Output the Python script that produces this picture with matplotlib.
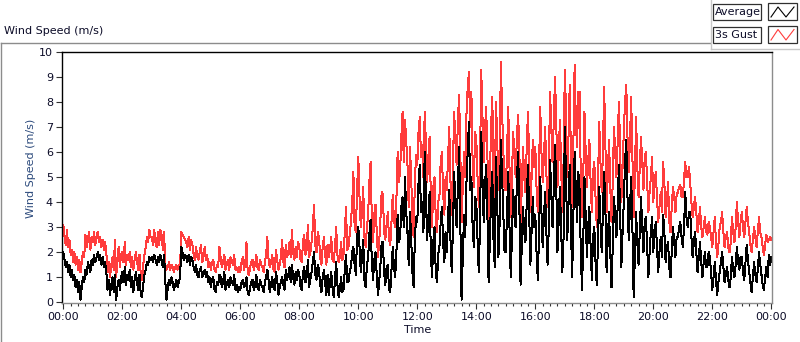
import numpy as np
import matplotlib
matplotlib.use("Agg")
import matplotlib.pyplot as plt
from matplotlib.lines import Line2D
from matplotlib.patches import Rectangle
from matplotlib.ticker import MultipleLocator, FuncFormatter

# ---------------- data (2.5-minute samples, m/s), one row per hour ----------------
avg_speed = [
    2.0,1.7,1.4,1.6,1.2,1.5,1.0,1.3,0.9,1.1,0.6,0.9,0.4,0.8,0.1,0.6,1.0,0.8,1.3,1.1,1.6,1.4,1.2,1.7,
    1.5,1.9,1.6,1.8,2.0,1.7,1.9,1.5,1.8,1.4,1.6,1.2,0.5,0.9,0.3,0.7,1.0,0.4,1.1,0.1,0.6,0.9,0.5,1.0,
    1.2,0.8,1.4,0.7,1.1,0.9,1.3,0.6,1.0,0.4,0.9,1.2,0.8,0.5,1.1,0.3,0.2,0.7,1.1,1.3,1.6,1.5,1.8,1.7,
    1.8,1.6,1.9,1.7,1.5,1.8,1.6,1.9,1.7,1.4,1.9,0.8,0.1,0.6,0.9,0.7,1.0,0.8,0.5,0.7,0.9,0.6,0.8,1.0,
    2.2,2.0,1.7,1.9,1.8,1.6,1.9,1.5,1.8,1.7,1.4,1.2,1.5,1.1,1.0,1.3,1.4,1.0,1.1,1.3,1.0,1.2,0.8,1.0,
    0.6,0.9,1.0,0.5,0.4,0.8,0.7,1.1,1.0,0.6,0.8,1.2,0.5,0.7,0.9,0.6,1.0,0.8,0.7,1.1,0.5,0.7,0.4,0.6,
    0.5,0.8,0.9,0.6,0.7,1.0,0.4,0.3,0.6,0.8,0.9,0.5,0.7,1.1,0.6,0.5,0.9,0.7,0.6,0.4,0.8,1.0,1.3,0.9,
    0.4,0.7,1.0,0.6,0.5,1.2,0.9,0.3,0.6,0.8,1.0,0.7,0.5,1.3,0.9,1.1,1.4,0.8,1.5,1.0,0.7,1.2,0.9,1.3,
    1.1,0.6,0.5,1.2,1.4,0.8,1.0,1.7,0.6,0.9,1.2,1.6,2.0,1.1,0.9,1.5,1.3,0.7,0.4,1.0,1.3,0.8,0.3,1.1,
    0.3,0.8,1.2,0.6,0.2,0.9,1.6,0.7,0.2,0.5,1.0,0.4,0.5,1.3,1.9,0.8,0.8,1.2,1.4,2.0,2.2,1.5,1.1,2.6,
    3.0,2.2,1.2,1.8,2.5,0.9,0.6,1.5,1.8,2.7,3.3,1.6,0.9,1.7,2.0,1.1,0.3,0.8,1.5,2.4,2.4,1.2,0.7,1.4,
    1.5,0.5,0.4,1.3,2.2,1.4,1.0,2.0,3.5,2.4,2.6,3.8,4.2,3.0,5.0,3.6,2.8,1.5,3.6,2.6,1.2,0.6,2.5,3.4,
    3.2,4.8,5.5,3.6,4.0,2.8,6.0,4.2,2.5,3.4,4.4,2.0,1.0,2.4,3.0,1.2,0.8,1.9,2.2,3.2,3.8,2.4,1.6,2.8,
    2.0,3.4,4.5,2.5,1.2,3.0,5.2,3.8,3.0,4.6,6.2,3.2,0.1,1.8,3.5,2.6,4.8,6.0,7.2,4.5,5.0,3.0,2.2,4.2,
    4.0,2.5,1.2,3.0,6.8,5.0,3.2,4.6,5.5,3.6,0.8,2.4,4.2,5.2,2.5,1.4,5.8,4.0,1.8,3.2,6.5,5.0,3.6,2.0,
    2.0,3.6,5.2,3.0,1.0,2.6,4.5,3.4,3.0,4.8,6.0,4.0,0.7,2.2,3.8,2.8,2.4,4.0,5.5,3.6,1.5,2.8,4.2,3.0,
    3.5,2.0,0.9,2.6,5.0,3.6,2.2,3.4,4.4,2.8,1.5,3.0,5.7,4.4,3.0,4.5,6.3,4.8,2.0,3.2,4.6,3.0,1.2,2.6,
    7.0,5.0,2.5,4.0,5.5,3.0,1.0,3.6,6.0,4.4,3.2,5.2,4.5,2.0,0.5,2.4,5.0,3.4,1.8,3.0,3.8,2.2,0.9,2.6,
    3.0,1.6,0.7,2.4,4.6,3.2,2.0,3.6,5.2,3.8,1.2,2.6,3.6,2.0,0.6,2.2,4.2,3.4,2.6,3.8,5.5,3.6,1.4,2.8,
    4.0,5.6,6.5,4.2,2.5,3.8,5.0,3.0,0.2,1.8,3.6,2.4,1.5,2.8,4.2,3.0,2.0,3.2,3.4,2.2,1.0,2.0,2.8,3.4,
    2.0,2.8,3.2,2.2,1.2,2.0,2.6,1.8,3.5,2.8,1.6,2.2,2.4,1.4,1.0,2.0,3.0,2.4,1.8,2.6,2.6,3.0,3.2,2.6,
    2.2,3.0,4.4,3.4,3.0,3.6,3.6,2.6,1.8,2.4,2.8,2.0,1.2,1.8,2.4,1.6,1.0,1.6,2.0,1.4,1.4,2.0,1.8,1.2,
    0.5,1.0,1.6,0.9,0.3,0.8,1.2,1.6,2.0,1.4,0.8,1.1,1.4,0.9,0.6,1.0,1.8,1.3,1.0,1.5,2.2,1.6,1.3,1.8,
    1.8,1.2,0.9,1.6,2.3,1.7,1.2,0.8,0.4,1.0,1.6,1.1,0.8,1.3,2.0,1.5,1.1,0.7,0.5,1.0,1.4,1.0,1.9,1.5,
    1.8,
]

gust_speed = [
    3.1,2.6,2.3,2.9,2.2,2.5,1.9,2.1,1.6,2.0,1.5,1.8,1.3,1.7,1.2,1.6,2.0,1.8,2.7,2.2,2.5,2.8,2.1,2.6,
    2.4,2.8,2.3,2.6,2.8,2.4,2.6,2.2,2.5,2.1,2.4,2.0,1.2,1.6,1.0,1.5,1.8,1.3,2.5,1.0,1.6,2.2,1.4,1.9,
    2.0,1.6,2.4,1.5,1.9,1.7,2.0,1.4,1.8,1.3,1.7,2.0,1.6,1.3,1.9,1.1,0.9,1.5,1.9,2.2,2.6,2.4,2.9,2.6,
    2.6,2.3,2.9,2.4,2.2,2.8,2.3,2.9,2.7,2.1,2.8,1.5,1.3,1.4,1.6,1.3,1.5,1.4,1.2,1.4,1.5,1.3,1.5,1.4,
    2.8,2.7,2.6,2.5,2.4,2.2,2.6,2.1,2.5,2.3,1.9,1.7,2.2,1.8,1.7,2.0,2.3,1.6,1.8,2.2,1.7,1.9,1.4,1.6,
    1.3,1.6,1.7,1.3,1.2,1.5,1.4,2.2,1.8,1.4,1.6,1.9,1.3,1.5,1.7,1.3,1.8,1.6,1.5,1.9,1.3,1.4,1.2,1.4,
    1.2,1.6,1.8,1.3,1.5,2.4,1.2,1.1,1.4,1.6,1.7,1.3,1.5,1.9,1.4,1.3,1.7,1.5,1.4,1.2,1.6,1.9,2.6,1.7,
    1.4,1.6,1.9,1.3,1.2,2.1,1.7,1.3,1.5,1.8,2.5,1.6,1.4,2.3,1.8,2.0,2.4,1.8,2.9,2.0,1.7,2.2,1.8,2.4,
    2.2,1.7,1.6,2.4,2.7,1.9,2.1,3.1,1.8,2.0,2.4,3.0,3.9,2.3,2.0,2.8,2.6,1.8,1.5,2.2,2.6,1.9,1.5,2.3,
    1.8,2.1,2.6,1.7,1.6,2.2,3.0,1.9,1.6,1.8,2.4,1.7,1.9,2.8,3.8,2.1,2.2,2.7,3.2,3.9,5.2,3.0,2.8,4.5,
    5.8,4.2,3.0,3.6,4.6,2.6,2.2,3.0,3.5,4.8,5.6,3.3,2.4,3.5,3.9,2.8,1.8,2.4,3.3,4.4,4.3,2.8,2.5,3.1,
    3.6,2.5,2.3,3.2,4.3,3.3,3.0,4.1,6.0,4.8,5.2,6.6,7.6,5.6,7.3,6.4,5.5,3.8,6.2,5.1,3.2,2.6,4.8,5.9,
    5.5,6.8,7.4,5.8,6.3,5.0,7.6,6.4,4.8,5.8,6.6,4.2,3.0,4.6,5.0,3.4,2.8,4.0,4.2,5.6,6.0,4.4,3.5,5.0,
    4.5,5.8,7.0,4.8,3.5,5.6,7.6,6.4,5.5,7.2,8.3,6.0,3.2,4.6,6.0,5.0,7.5,8.6,9.2,7.0,8.4,5.6,4.6,6.8,
    6.5,5.0,3.8,5.4,9.3,7.4,5.6,6.8,7.8,6.0,3.2,4.8,7.0,8.2,5.2,4.0,8.0,6.6,4.5,5.8,9.6,7.6,6.0,4.5,
    4.5,6.0,7.8,5.4,3.4,5.0,6.8,5.8,5.0,6.6,7.5,6.2,3.0,4.6,6.2,5.0,4.4,6.2,7.6,5.8,3.6,5.0,6.5,5.4,
    6.2,4.6,3.6,5.2,7.8,6.0,4.8,5.8,7.0,5.2,3.8,5.4,8.4,7.0,5.6,7.2,9.0,7.4,4.6,5.8,7.3,5.4,3.6,5.6,
    9.3,7.6,5.0,6.6,8.7,5.8,3.8,6.4,9.5,7.2,6.2,8.4,8.4,5.0,3.4,5.0,7.6,6.0,4.6,5.6,6.5,4.8,3.6,5.2,
    5.6,4.2,3.0,4.8,7.2,5.6,4.4,6.0,8.6,6.4,3.6,5.2,6.5,4.6,3.2,4.8,7.0,6.0,5.0,6.4,8.0,6.2,4.0,5.4,
    6.8,8.0,8.7,6.6,5.2,6.4,8.2,5.8,3.4,5.0,7.4,5.4,4.2,5.4,6.6,5.6,4.5,5.8,6.0,4.8,3.6,4.4,5.0,5.8,
    4.0,4.8,5.2,4.2,3.2,3.8,4.4,3.6,5.6,4.8,3.4,4.0,4.8,3.2,2.8,3.8,4.6,4.2,3.6,4.3,4.4,4.6,4.7,4.2,
    4.2,4.9,5.6,5.0,5.0,5.4,4.8,4.0,3.4,3.8,4.2,3.6,2.8,3.2,3.8,3.0,2.6,3.0,3.4,2.8,2.7,3.2,3.0,2.6,
    2.2,2.8,3.4,2.4,1.8,2.3,3.0,3.2,3.6,2.8,2.2,2.6,2.8,2.2,2.0,2.4,3.4,2.8,2.4,3.0,4.0,3.2,2.6,3.2,
    3.6,3.0,2.6,3.2,3.8,3.2,2.8,2.3,2.0,2.5,3.0,2.6,2.2,2.8,3.4,2.8,2.6,2.2,1.9,2.3,2.7,2.4,2.5,2.6,
    2.5,
]

sample_minutes = 2.5
x_tick_hours = [0, 2, 4, 6, 8, 10, 12, 14, 16, 18, 20, 22, 24]
y_ticks = [0, 1, 2, 3, 4, 5, 6, 7, 8, 9, 10]
series_names = ["Average", "3s Gust"]

# ---------------- figure ----------------
W, H = 800, 342
fig = plt.figure(figsize=(W / 100, H / 100), dpi=100)
fig.patch.set_facecolor("white")

def fx(x):
    return x / W

def fy(y):
    return 1 - y / H

FONT = "DejaVu Sans"
TXT = "#0c0c28"

L, R, T, B = 62, 772.3, 51.7, 303.0
ax = fig.add_axes([fx(L), fy(B), fx(R) - fx(L), fy(T) - fy(B)])

t_gust = np.arange(len(gust_speed)) * sample_minutes / 60.0
t_avg = np.arange(len(avg_speed)) * sample_minutes / 60.0
ax.plot(t_gust, gust_speed, color="#ff3c3c", lw=0.72, antialiased=False)
ax.plot(t_avg, avg_speed, color="black", lw=0.72, antialiased=False)

ax.set_xlim(-1.3 / 29.5, 24 + 1.0 / 29.5)
ax.set_ylim(-0.03, 10.01)

ax.set_xticks(x_tick_hours)
ax.xaxis.set_major_formatter(FuncFormatter(lambda v, p: "%02d:00" % (int(round(v)) % 24)))
ax.xaxis.set_minor_locator(MultipleLocator(0.25))
ax.set_yticks(y_ticks)
ax.set_yticklabels([str(v) for v in y_ticks])

ax.tick_params(axis="both", which="major", direction="out", length=4.5, width=0.8,
               color="#303030", labelsize=8, labelcolor=TXT, pad=2)
ax.tick_params(axis="x", which="minor", direction="out", length=2.5, width=0.8, color="#303030")
for lab in ax.get_xticklabels() + ax.get_yticklabels():
    lab.set_fontfamily(FONT)

ax.spines["top"].set_color("black")
ax.spines["left"].set_color("black")
ax.spines["right"].set_color("#8c8c8c")
ax.spines["bottom"].set_color("#8c8c8c")
for s in ax.spines.values():
    s.set_linewidth(1.0)

ax.set_xlabel("Time", fontsize=8, color=TXT, family=FONT, labelpad=2)
fig.text(fx(31), fy(168), "Wind Speed (m/s)", rotation=90, ha="center", va="center",
         fontsize=8, color="#2c4a7c", family=FONT)

fig.text(fx(4), fy(31), "Wind Speed (m/s)", ha="left", va="center",
         fontsize=8, color=TXT, family=FONT)

frame_col = "#8c8c8c"
fig.add_artist(Line2D([fx(1), fx(710)], [fy(43), fy(43)], color=frame_col, lw=1.0))
fig.add_artist(Line2D([fx(1), fx(1)], [fy(43), fy(342)], color=frame_col, lw=1.0))
fig.add_artist(Line2D([fx(710.5), fx(710.5)], [fy(0), fy(49)], color="#c8c8c8", lw=1.0))
fig.add_artist(Line2D([fx(710.5), fx(800)], [fy(49), fy(49)], color="#c8c8c8", lw=1.0))

leg_rows = [(4, 19.5, "black"), (26.5, 42.5, "#ff3c3c")]
for (y0, y1, col), name in zip(leg_rows, series_names):
    fig.add_artist(Rectangle((fx(713), fy(y1)), fx(761) - fx(713), fy(y0) - fy(y1),
                             transform=fig.transFigure, facecolor="white",
                             edgecolor="#303030", lw=0.9))
    fig.text(fx(715), fy((y0 + y1) / 2), name, ha="left", va="center",
             fontsize=8, color=TXT, family=FONT)
    fig.add_artist(Rectangle((fx(767.5), fy(y1 + 0.5)), fx(797) - fx(767.5), fy(y0 - 0.5) - fy(y1 + 0.5),
                             transform=fig.transFigure, facecolor="white",
                             edgecolor="#303030", lw=0.9))
    zx = [771, 778, 786, 794]
    zy = [y1 - 2.5, y0 + 3, y1 - 2.5, y0 + 3]
    fig.add_artist(Line2D([fx(v) for v in zx], [fy(v) for v in zy], color=col, lw=0.8))

fig.savefig("out.png", dpi=100, facecolor="white")
